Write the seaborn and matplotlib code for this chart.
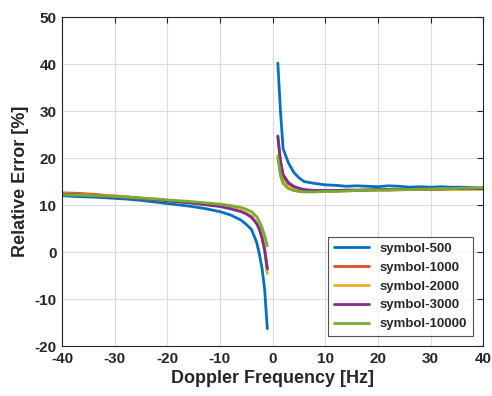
import numpy as np
import pandas as pd
import matplotlib
matplotlib.use("Agg")
import matplotlib.pyplot as plt
import seaborn as sns

# ========== DATA ==========
series_names = ["symbol-500", "symbol-1000", "symbol-2000", "symbol-3000", "symbol-10000"]
colors = ["#0072BD", "#D95319", "#EDB120", "#7E2F8E", "#77AC30"]

x_neg = [-40, -37, -34, -31, -28, -25, -22, -19, -16, -13, -10, -8, -6, -5, -4, -3, -2.5, -2, -1.5, -1]
x_pos = [1, 1.5, 2, 3, 4, 5, 6, 7, 8, 10, 12, 14, 16, 18, 20, 22, 24, 26, 28, 30, 32, 34, 36, 38, 40]

neg_500 = [12.0, 11.8, 11.7, 11.5, 11.3, 11.0, 10.6, 10.2, 9.8, 9.3, 8.6, 7.9, 6.8, 5.9, 4.8, 2.0, -0.5, -3.5, -8.0, -16.3]
neg_1000 = [12.6, 12.5, 12.3, 12.0, 11.8, 11.5, 11.2, 10.9, 10.6, 10.2, 9.8, 9.4, 8.8, 8.3, 7.6, 6.2, 5.0, 3.2, 0.5, -3.5]
neg_2000 = [12.4, 12.3, 12.1, 11.9, 11.7, 11.4, 11.1, 10.8, 10.5, 10.2, 9.8, 9.4, 8.8, 8.3, 7.6, 6.2, 5.0, 3.0, 0.2, -4.6]
neg_3000 = [12.3, 12.2, 12.0, 11.8, 11.6, 11.4, 11.1, 10.8, 10.5, 10.1, 9.7, 9.2, 8.6, 8.1, 7.4, 6.0, 4.8, 3.0, 0.5, -3.6]
neg_10000 = [12.2, 12.1, 12.0, 11.9, 11.7, 11.5, 11.3, 11.0, 10.8, 10.5, 10.2, 9.9, 9.5, 9.1, 8.6, 7.5, 6.5, 5.2, 3.5, 1.3]

pos_500 = [40.2, 30.0, 22.0, 19.0, 17.0, 15.8, 15.0, 14.8, 14.6, 14.3, 14.2, 14.0, 14.1, 14.0, 13.9,
           14.1, 14.0, 13.8, 13.9, 13.8, 13.9, 13.8, 13.8, 13.7, 13.6]
pos_1000 = [24.5, 19.0, 16.0, 14.5, 13.8, 13.4, 13.2, 13.1, 13.0, 13.0, 13.0, 13.1, 13.1, 13.2, 13.2,
            13.2, 13.3, 13.3, 13.3, 13.3, 13.4, 13.4, 13.4, 13.4, 13.4]
pos_2000 = [20.5, 16.5, 14.8, 13.6, 13.2, 13.0, 12.9, 12.9, 12.9, 12.9, 13.0, 13.0, 13.1, 13.1, 13.2,
            13.2, 13.2, 13.3, 13.3, 13.3, 13.3, 13.3, 13.4, 13.4, 13.4]
pos_3000 = [24.7, 19.5, 16.5, 14.8, 14.0, 13.6, 13.3, 13.2, 13.1, 13.1, 13.1, 13.2, 13.2, 13.2, 13.3,
            13.3, 13.3, 13.4, 13.4, 13.4, 13.4, 13.5, 13.5, 13.5, 13.5]
pos_10000 = [20.2, 16.3, 14.6, 13.5, 13.1, 12.9, 12.8, 12.8, 12.8, 12.9, 12.9, 13.0, 13.1, 13.1, 13.2,
             13.2, 13.3, 13.3, 13.4, 13.4, 13.5, 13.5, 13.6, 13.6, 13.7]

neg_vals = [neg_500, neg_1000, neg_2000, neg_3000, neg_10000]
pos_vals = [pos_500, pos_1000, pos_2000, pos_3000, pos_10000]

# ========== LONG TABLE ==========
rows = []
for name, nv, pv in zip(series_names, neg_vals, pos_vals):
    for x, y in zip(x_neg, nv):
        rows.append({"series": name, "side": "neg", "freq": x, "err": y})
    for x, y in zip(x_pos, pv):
        rows.append({"series": name, "side": "pos", "freq": x, "err": y})
df = pd.DataFrame(rows)

# ========== PLOT ==========
sns.set_style("whitegrid")
plt.rcParams["font.family"] = ["Liberation Sans", "DejaVu Sans"]
plt.rcParams["font.weight"] = "bold"
plt.rcParams["axes.unicode_minus"] = False

fig = plt.figure(figsize=(4.92, 3.96), dpi=100)
ax = fig.add_axes([0.126, 0.126, 0.856, 0.831])

sns.lineplot(data=df, x="freq", y="err", hue="series", hue_order=series_names,
             palette=colors, units="side", estimator=None, sort=True,
             linewidth=2.0, ax=ax)

ax.set_xlim(-40, 40)
ax.set_ylim(-20, 50)
ax.set_xticks(range(-40, 41, 10))
ax.set_yticks(range(-20, 51, 10))
ax.grid(True, color="#dcdcdc", linewidth=0.8)
for s in ax.spines.values():
    s.set_color("#262626")
    s.set_linewidth(0.8)
ax.tick_params(direction="in", length=4, width=0.8, top=True, right=True,
               labelsize=11, colors="#262626", pad=4)
for lab in ax.get_xticklabels() + ax.get_yticklabels():
    lab.set_fontweight("bold")

ax.set_xlabel("Doppler Frequency [Hz]", fontsize=13, fontweight="bold", labelpad=3)
ax.set_ylabel("Relative Error [%]", fontsize=13, fontweight="bold", labelpad=4)

leg = ax.legend(loc="lower right", frameon=True, fancybox=False, fontsize=9.5,
                handlelength=2.7, borderpad=0.45, labelspacing=0.5,
                borderaxespad=0, bbox_to_anchor=(0.976, 0.03))
leg.get_frame().set_edgecolor("#262626")
leg.get_frame().set_linewidth(0.8)
for t in leg.get_texts():
    t.set_fontweight("bold")

fig.savefig("out.png", dpi=100)
